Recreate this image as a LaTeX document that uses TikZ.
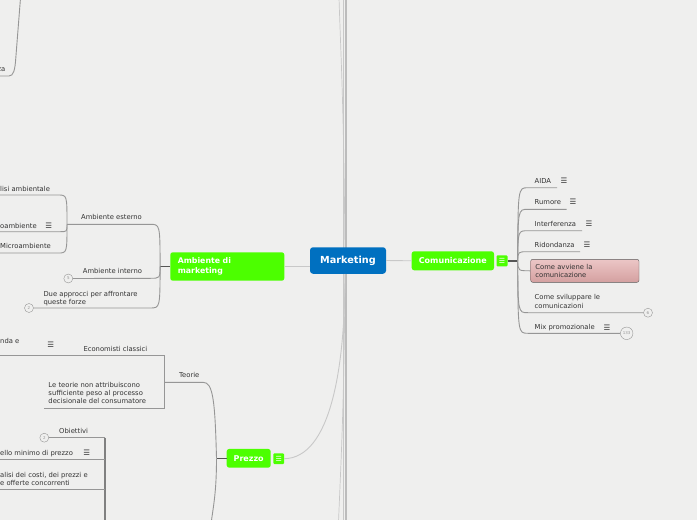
\documentclass[tikz,border=0pt]{standalone}
\usepackage{fontspec}
\setmainfont{DejaVu Sans}
\definecolor{bgc}{RGB}{239,239,238}
\definecolor{greenc}{RGB}{76,255,0}
\definecolor{bluec}{RGB}{0,112,192}
\definecolor{txtc}{RGB}{51,51,51}
\definecolor{lnc}{RGB}{150,150,150}
\definecolor{lightln}{RGB}{200,200,200}
\definecolor{vln}{RGB}{188,188,188}
\definecolor{darkln}{RGB}{85,85,85}
\definecolor{pinktop}{RGB}{236,198,198}
\definecolor{pinkbot}{RGB}{212,160,160}
\begin{document}
\begin{tikzpicture}[x=1pt,y=-1pt,
  txt/.style={anchor=base west,inner sep=0pt,text=txtc,font=\fontsize{6.8}{8.2}\selectfont},
  mtxt/.style={txt,anchor=north west,align=left},
  ico/.style={inner sep=0pt,text=txtc,font=\fontsize{7.5}{7.5}\selectfont},
  br/.style={draw=lnc,line width=0.9pt},
  hubln/.style={draw=darkln,line width=1.6pt},
  link/.style={draw=lightln,line width=0.9pt},
  gbox/.style={fill=greenc,rounded corners=2.5pt,inner sep=0pt,text=white,font=\bfseries\fontsize{8}{10}\selectfont},
  gico/.style={fill=greenc,rounded corners=1pt,minimum size=11pt,inner sep=0pt,text=white,font=\fontsize{7}{7}\selectfont},
  coll/.style={circle,draw=lnc,fill=bgc,minimum size=9pt,inner sep=0pt,text=lnc,font=\fontsize{4}{4}\selectfont},
]
\useasboundingbox (0,0) rectangle (697,520);
\fill[bgc] (0,0) rectangle (697,520);
\clip (0,0) rectangle (697,520);

% ---- central vertical connectors (to nodes off the picture)
\coordinate (vt1) at (339,-2);
\coordinate (vt2) at (343.5,-2);
\coordinate (vt3) at (346,-2);
\coordinate (vb1) at (338.5,522);
\coordinate (vb2) at (343.5,522);
\coordinate (vb3) at (346,522);
\coordinate (vm) at (345,260);
\draw[draw=lightln,line width=0.7pt] (vt1) .. controls (341,60) and (344,110) .. (vm);
\draw[draw=lightln,line width=0.7pt] (vm) .. controls (344.5,400) and (341,460) .. (vb1);
\draw[draw=lightln,line width=1.2pt] (vt2) -- (vb2);
\draw[draw=vln,line width=1.1pt] (vt3) -- (vb3);

% ---- main nodes
\node[fill=bluec,rounded corners=3pt,minimum width=76pt,minimum height=26.5pt,inner sep=0pt,
      text=white,font=\bfseries\fontsize{9.7}{11}\selectfont] (mkt) at (348,260.5) {Marketing};

\node[gbox,minimum height=28.4pt,text width=99pt,align=left,inner xsep=7.5pt,
      font=\bfseries\fontsize{7.8}{10}\selectfont] (amb) at (227.3,266.5) {Ambiente di\\marketing};

\node[gbox,minimum width=82.3pt,minimum height=19pt] (com) at (452.85,260.8) {Comunicazione};
\node[gico] (comi) at (502,260.8) {☰};

\node[gbox,minimum width=44pt,minimum height=18.7pt] (prz) at (248.7,458.3) {Prezzo};
\node[gico,minimum size=10.7pt] (przi) at (278.7,458.7) {☰};

% ---- links from Marketing
\draw[link] (amb.east) -- (amb.east -| mkt.west);
\draw[link] (mkt.east) -- (com.west);
\draw[link] (przi.east) .. controls (330,458) and (345,370) .. ([xshift=-3pt]mkt.south);

% ================= Comunicazione branch
\draw[hubln] (comi.east) -- ++(10,0) coordinate (chub);

\node[txt] (aida) at (534.5,183.1) {AIDA};
\node[ico] (aidai) at (564,180.7) {☰};
\node[txt] (rum) at (534.5,204.4) {Rumore};
\node[ico] (rumi) at (573,202) {☰};
\node[txt] (intf) at (534.5,226.1) {Interferenza};
\node[ico] (intfi) at (589,223.7) {☰};
\node[txt] (rid) at (534.5,247.4) {Ridondanza};
\node[ico] (ridi) at (587,245) {☰};
\node[draw=gray!70!black,top color=pinktop,bottom color=pinkbot,rounded corners=2pt,
      minimum width=108.3pt,minimum height=23pt,text width=99pt,inner xsep=4.6pt,align=left,
      inner ysep=0pt,text=txtc,font=\fontsize{6.8}{8}\selectfont] (cav) at (584.85,270.8) {Come avviene la\\comunicazione};
\node[mtxt] (svil) at (534.5,294.5) {Come sviluppare le\\comunicazioni};
\node[coll] (svilc) at (648,312.7) {6};
\node[txt] (mix) at (534.5,329.7) {Mix promozionale};
\node[ico] (mixi) at (607,327.3) {☰};
\node[coll,minimum size=12.5pt] (mixc) at (626.7,333.3) {133};

\draw[br] (chub) .. controls (518,187.7) and (518,187.7) .. (528,187.7) -- (557,187.7);
\draw[br] (chub) .. controls (518,209.3) and (518,209.3) .. (528,209.3) -- (566.5,209.3);
\draw[br] (chub) .. controls (518,230.7) and (518,230.7) .. (528,230.7) -- (582,230.7);
\draw[br] (chub) .. controls (518,251.7) and (518,251.7) .. (528,251.7) -- (580,251.7);
\draw[br] (chub) .. controls (518,270.8) and (518,270.8) .. (cav.west);
\draw[br] (chub) .. controls (518,312.7) and (518,312.7) .. (528,312.7) -- (svilc.west);
\draw[br] (chub) .. controls (518,333.3) and (518,333.3) .. (528,333.3) -- (mixc.west);

% ================= Ambiente di marketing branch
\draw[hubln] (amb.west) -- ++(-10,0) coordinate (ahub);

\node[txt] (aest) at (81,219.7) {Ambiente esterno};
\node[txt] (aint) at (82.7,273.4) {Ambiente interno};
\node[coll] (aintc) at (68.3,278.5) {5};
\node[mtxt] (due) at (43.3,291.3) {Due approcci per affrontare\\queste forze};
\node[coll] (duec) at (29,308) {2};

\draw[br] (ahub) .. controls (160,224.3) and (160,224.3) .. (150,224.3) -- (67,224.3) coordinate (ehub);
\draw[br] (ahub) .. controls (160,278.3) and (160,278.3) .. (150,278.3) -- (aintc.east);
\draw[br] (ahub) .. controls (160,308) and (160,308) .. (150,308) -- (duec.east);

\node[txt] (anal) at (0,191.7) {lisi ambientale};
\node[txt] (macro) at (0,228.1) {oambiente};
\node[ico] (macroi) at (48.7,225.7) {☰};
\node[txt] (micro) at (0,248.7) {Microambiente};

\draw[br] (ehub) .. controls (67,195) and (67,195) .. (58,195) -- (0,195);
\draw[br] (ehub) .. controls (67,231.7) and (67,231.7) .. (60,231.7) -- (0,231.7);
\draw[br] (ehub) .. controls (67,253) and (67,253) .. (58,253) -- (0,253);

% ---- top-left fragment
\node[txt,anchor=base east] (za) at (5.5,71.7) {za};
\coordinate (zatop) at (20.5,-2);
\draw[br] (0,76) -- (9,76) .. controls (13.5,76) and (15,70) .. (15.8,58) -- (zatop);

% ================= Prezzo branch
\draw[hubln] (prz.west) -- ++(-10,0) coordinate (phub);
\coordinate (pdown) at (211,524);
\draw[br] (phub) .. controls (215,400) and (213,382.3) .. (203,382.3) -- (164.3,382.3) coordinate (thub);
\draw[br] (phub) .. controls (216.5,492) and (213.5,505) .. (pdown);

\node[txt] (teo) at (179,377.7) {Teorie};
\node[txt] (eco) at (83.3,351.7) {Economisti classici};
\node[txt] (dom) at (0,343.1) {nda e};
\node[ico] (domi) at (50.7,345) {☰};
\node[mtxt] (lete) at (48.3,382.2) {Le teorie non attribuiscono\\sufficiente peso al processo\\decisionale del consumatore};

\draw[br] (0,355.7) -- (164.3,355.7) -- (thub) -- (164.3,408.7) -- (44.3,408.7);

\node[txt] (obi) at (59,433.4) {Obiettivi};
\node[coll] (obic) at (44.3,437.7) {2};
\node[txt] (liv) at (0,455.1) {ello minimo di prezzo};
\node[ico] (livi) at (86.7,452.7) {☰};
\node[mtxt] (ana) at (0,472.2) {alisi dei costi, dei prezzi e\\e offerte concorrenti};

\coordinate (obot) at (105,524);
\draw[br] (obic.east) -- (105,437.7);
\draw[br,draw=lnc!85!black,line width=1.2pt] (105,437.7) -- (obot);
\draw[br] (0,459.3) -- (105,459.3);
\draw[br] (0,489.3) -- (105,489.3);
\end{tikzpicture}
\end{document}
